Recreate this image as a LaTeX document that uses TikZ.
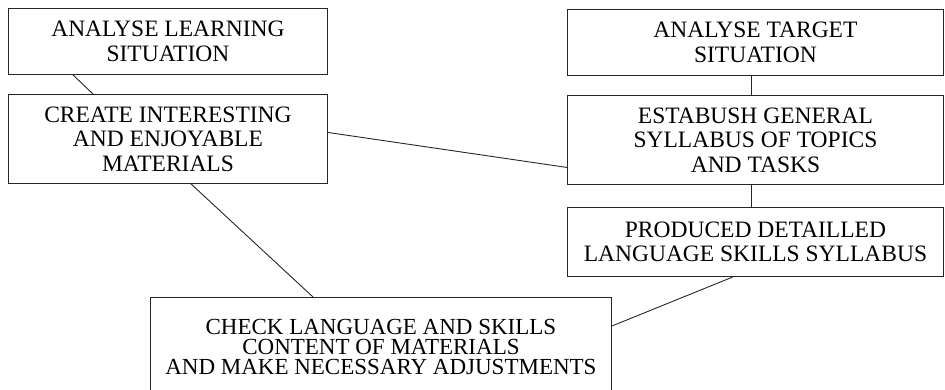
\documentclass[tikz,border=0pt]{standalone}
\usepackage{fontspec}
\setmainfont{Liberation Serif}

\begin{document}
\begin{tikzpicture}[x=1pt,y=-1pt,
    stage/.style={draw=black!85,line width=0.9pt,anchor=north west,align=center,inner sep=0pt,
        font=\fontsize{23.5}{24.5}\selectfont},
    link/.style={draw=black!85,line width=0.9pt}]
            \clip (0,0) rectangle (945,389);
            % left column
            \node[stage,minimum width=319pt,minimum height=66pt] (learn) at (8,8) {ANALYSE LEARNING\\SITUATION};
            \node[stage,minimum width=319pt,minimum height=89pt] (create) at (8,94) {CREATE INTERESTING\\AND ENJOYABLE\\MATERIALS};
            % right column
            \node[stage,minimum width=376pt,minimum height=66pt] (target) at (567,9) {ANALYSE TARGET\\SITUATION};
            \node[stage,minimum width=376pt,minimum height=89pt] (general) at (567,95) {ESTABUSH GENERAL\\SYLLABUS OF TOPICS\\AND TASKS};
            \node[stage,minimum width=376pt,minimum height=69pt] (detail) at (567,207) {PRODUCED DETAILLED\\LANGUAGE SKILLS SYLLABUS};
            % bottom box runs off the page
            \node[stage,minimum width=461pt,minimum height=100pt,font=\fontsize{23}{20}\selectfont] (check) at (150,297) {CHECK LANGUAGE AND SKILLS\\CONTENT OF MATERIALS\\AND MAKE NECESSARY ADJUSTMENTS};
            % connectors
            \draw[link] ([xshift=65pt]learn.south west) -- ([xshift=85pt]create.north west);
            \draw[link] ([yshift=6.5pt]create.east) -- ([yshift=-27.5pt]general.west);
            \draw[link] ([xshift=-4pt]target.south) -- ([xshift=-4pt]general.north);
            \draw[link] ([xshift=-4pt]general.south) -- ([xshift=-4pt]detail.north);
            \draw[link] ([xshift=183pt]create.south west) -- ([xshift=163pt]check.north west);
            \draw[link] ([xshift=166pt]detail.south west) -- ([yshift=-29pt]check.north east);
\end{tikzpicture}
\end{document}
